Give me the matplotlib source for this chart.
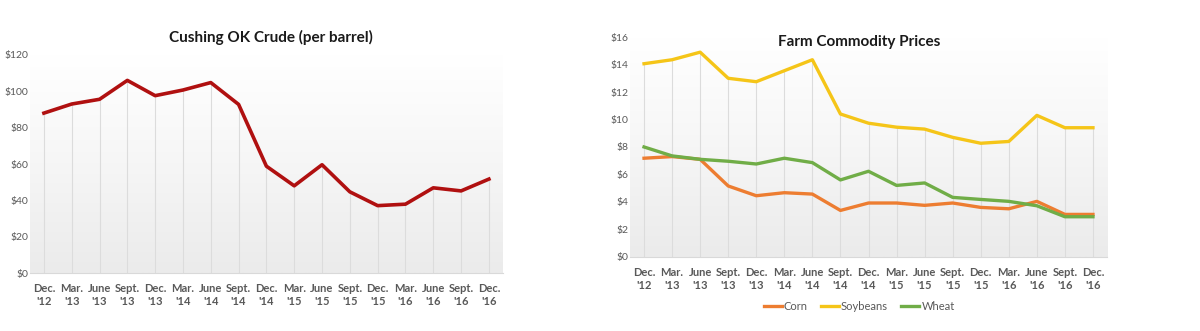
import numpy as np
import matplotlib.pyplot as plt
from matplotlib.colors import LinearSegmentedColormap

plt.rcParams['font.family'] = ['Lato', 'DejaVu Sans']

quarters = ["Dec.\n'12", "Mar.\n'13", "June\n'13", "Sept.\n'13", "Dec.\n'13", "Mar.\n'14",
            "June\n'14", "Sept.\n'14", "Dec.\n'14", "Mar.\n'15", "June\n'15", "Sept.\n'15",
            "Dec.\n'15", "Mar.\n'16", "June\n'16", "Sept.\n'16", "Dec.\n'16"]

crude = [88, 93, 95.6, 106, 97.6, 100.7, 104.8, 92.8, 58.8, 48, 59.6, 44.7, 37.1, 37.9, 46.9, 45.2, 51.7]

corn = [7.18, 7.3, 7.1, 5.16, 4.45, 4.67, 4.57, 3.38, 3.92, 3.92, 3.75, 3.92, 3.6, 3.5, 4.04, 3.09, 3.09]
soybeans = [14.06, 14.35, 14.9, 13.0, 12.75, 13.55, 14.35, 10.4, 9.73, 9.44, 9.3, 8.7, 8.27, 8.4, 10.3, 9.4, 9.4]
wheat = [8.0, 7.35, 7.1, 6.96, 6.76, 7.18, 6.86, 5.6, 6.23, 5.2, 5.38, 4.33, 4.18, 4.04, 3.72, 2.92, 2.92]

crude_ticks = [0, 20, 40, 60, 80, 100, 120]
farm_ticks = [0, 2, 4, 6, 8, 10, 12, 14, 16]

TXT = '#595959'
bg = LinearSegmentedColormap.from_list('bg', ['#ebebeb', '#f6f6f6', '#ffffff'])


def style(ax, ymax, ticks, title, title_x, title_y):
    x = np.arange(len(quarters))
    ax.set_xlim(-0.5, len(quarters) - 0.5)
    ax.set_ylim(0, ymax)
    grad = np.linspace(0, 1, 100).reshape(-1, 1)
    ax.imshow(grad, cmap=bg, origin='lower', aspect='auto',
              extent=(-0.5, len(quarters) - 0.5, 0, ymax), zorder=0)
    ax.set_xticks(x)
    ax.set_xticklabels(quarters, fontsize=8, fontweight='bold', color=TXT, linespacing=1.3)
    ax.set_yticks(ticks)
    ax.set_yticklabels(['$%d' % t for t in ticks], fontsize=7.5, color=TXT)
    ax.tick_params(axis='x', length=0, pad=7)
    ax.tick_params(axis='y', length=0, pad=1)
    for s in ['top', 'right', 'left']:
        ax.spines[s].set_visible(False)
    ax.spines['bottom'].set_color('#d9d9d9')
    ax.set_title(title, fontsize=11, fontweight='bold', color='#1a1a1a', x=title_x, y=title_y)


fig = plt.figure(figsize=(12, 3.31), dpi=100)

ax1 = fig.add_axes([0.025, 0.175, 0.394, 0.659])
style(ax1, 120, crude_ticks, 'Cushing OK Crude (per barrel)', 0.51, 1.02)
x = np.arange(len(quarters))
ax1.vlines(x, 0, crude, color='#dcdcdc', lw=0.8, zorder=1)
ax1.plot(x, crude, color='#b01010', lw=2.6, zorder=3, solid_joinstyle='round')

ax2 = fig.add_axes([0.525, 0.224, 0.3975, 0.664])
style(ax2, 16, farm_ticks, 'Farm Commodity Prices', 0.48, 0.92)
top = np.max([corn, soybeans, wheat], axis=0)
ax2.vlines(x, 0, top, color='#dcdcdc', lw=0.8, zorder=1)
ax2.plot(x, corn, color='#ed7d31', lw=2.4, zorder=3, label='Corn')
ax2.plot(x, soybeans, color='#f5c518', lw=2.4, zorder=3, label='Soybeans')
ax2.plot(x, wheat, color='#70ad47', lw=2.4, zorder=3, label='Wheat')
leg = fig.legend(loc='center', bbox_to_anchor=(0.716, 0.075), ncol=3, frameon=False,
                 fontsize=8, handlelength=1.6, handletextpad=0.2, columnspacing=1.2)
for t in leg.get_texts():
    t.set_color(TXT)

fig.savefig('out.png', dpi=100, facecolor='white')
